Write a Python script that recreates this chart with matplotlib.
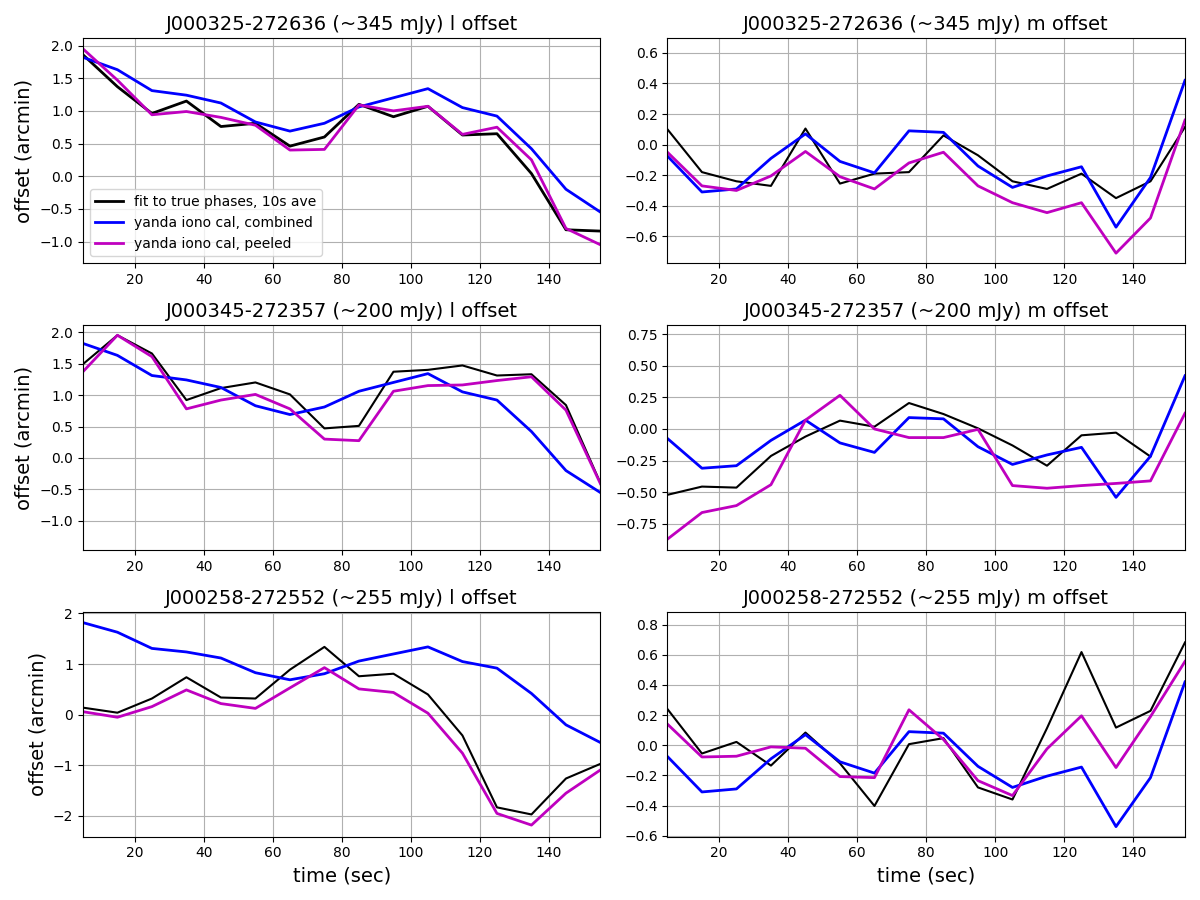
import numpy as np
from matplotlib import pyplot as plt

t = [5, 15, 25, 35, 45, 55, 65, 75, 85, 95, 105, 115, 125, 135, 145, 155]

# combined iono cal (same for every source)
comb_l = [1.82, 1.63, 1.31, 1.24, 1.12, 0.83, 0.69, 0.81, 1.06, 1.20, 1.34, 1.05, 0.92, 0.42, -0.20, -0.55]
comb_m = [-0.075, -0.31, -0.29, -0.09, 0.07, -0.11, -0.185, 0.09, 0.08, -0.14, -0.28, -0.205, -0.145, -0.54, -0.215, 0.42]

# J000325-272636
true_l_1 = [1.86, 1.37, 0.96, 1.15, 0.76, 0.81, 0.46, 0.60, 1.10, 0.91, 1.07, 0.63, 0.65, 0.04, -0.82, -0.84]
peel_l_1 = [1.95, 1.47, 0.94, 0.99, 0.90, 0.78, 0.40, 0.41, 1.09, 1.00, 1.07, 0.64, 0.75, 0.25, -0.80, -1.05]
true_m_1 = [0.10, -0.18, -0.24, -0.27, 0.105, -0.255, -0.19, -0.18, 0.06, -0.07, -0.24, -0.29, -0.19, -0.35, -0.24, 0.115]
peel_m_1 = [-0.05, -0.27, -0.30, -0.205, -0.045, -0.21, -0.29, -0.12, -0.05, -0.27, -0.38, -0.445, -0.38, -0.71, -0.48, 0.16]

# J000345-272357
true_l_2 = [1.49, 1.95, 1.66, 0.92, 1.11, 1.20, 1.01, 0.47, 0.51, 1.37, 1.40, 1.47, 1.31, 1.33, 0.84, -0.40]
peel_l_2 = [1.37, 1.95, 1.61, 0.78, 0.92, 1.01, 0.78, 0.30, 0.275, 1.06, 1.15, 1.16, 1.23, 1.29, 0.76, -0.41]
true_m_2 = [-0.52, -0.455, -0.463, -0.213, -0.06, 0.066, 0.018, 0.205, 0.118, 0.005, -0.13, -0.29, -0.05, -0.029, -0.218, np.nan]
peel_m_2 = [-0.87, -0.66, -0.605, -0.44, 0.07, 0.266, 0.0, -0.068, -0.068, -0.003, -0.447, -0.468, -0.447, -0.43, -0.41, 0.124]

# J000258-272552
true_l_3 = [0.14, 0.04, 0.32, 0.74, 0.34, 0.32, 0.89, 1.34, 0.76, 0.81, 0.40, -0.41, -1.83, -1.97, -1.26, -0.97]
peel_l_3 = [0.06, -0.05, 0.16, 0.49, 0.22, 0.125, 0.53, 0.93, 0.51, 0.44, 0.03, -0.76, -1.95, -2.18, -1.55, -1.09]
true_m_3 = [0.24, -0.055, 0.022, -0.135, 0.084, -0.12, -0.403, 0.007, 0.047, -0.28, -0.36, 0.113, 0.618, 0.117, 0.228, 0.682]
peel_m_3 = [0.14, -0.078, -0.073, -0.011, -0.02, -0.208, -0.215, 0.235, 0.038, -0.235, -0.334, -0.024, 0.195, -0.148, 0.19, 0.556]

fontes = ["J000325-272636 (~345 mJy)", "J000345-272357 (~200 mJy)", "J000258-272552 (~255 mJy)"]
dados_l = [(true_l_1, peel_l_1), (true_l_2, peel_l_2), (true_l_3, peel_l_3)]
dados_m = [(true_m_1, peel_m_1), (true_m_2, peel_m_2), (true_m_3, peel_m_3)]
lims_l = [(-1.33, 2.11), (-1.46, 2.11), (-2.41, 2.03)]
lims_m = [(-0.775, 0.695), (-0.955, 0.82), (-0.607, 0.884)]

fig, axs = plt.subplots(3, 2, figsize=(12, 9), dpi=100)

for i in range(3):
    ax = axs[i, 0]
    lw_true = 2 if i == 0 else 1.5
    ax.plot(t, dados_l[i][0], color='k', lw=lw_true, label="fit to true phases, 10s ave")
    ax.plot(t, comb_l, color='b', lw=2, label="yanda iono cal, combined")
    ax.plot(t, dados_l[i][1], color='m', lw=2, label="yanda iono cal, peeled")
    ax.set_title(fontes[i] + " l offset", fontsize=14)
    ax.set_ylabel("offset (arcmin)", fontsize=14)
    ax.set_xlim(5, 155)
    ax.set_ylim(*lims_l[i])
    ax.grid(True)
    if i == 0:
        ax.legend(loc='lower left', fontsize=10)

    ax = axs[i, 1]
    ax.plot(t, dados_m[i][0], color='k', lw=1.5)
    ax.plot(t, comb_m, color='b', lw=2)
    ax.plot(t, dados_m[i][1], color='m', lw=2)
    ax.set_title(fontes[i] + " m offset", fontsize=14)
    ax.set_xlim(5, 155)
    ax.set_ylim(*lims_m[i])
    ax.grid(True)

axs[2, 0].set_xlabel("time (sec)", fontsize=14)
axs[2, 1].set_xlabel("time (sec)", fontsize=14)

plt.tight_layout()
plt.savefig("out.png")
